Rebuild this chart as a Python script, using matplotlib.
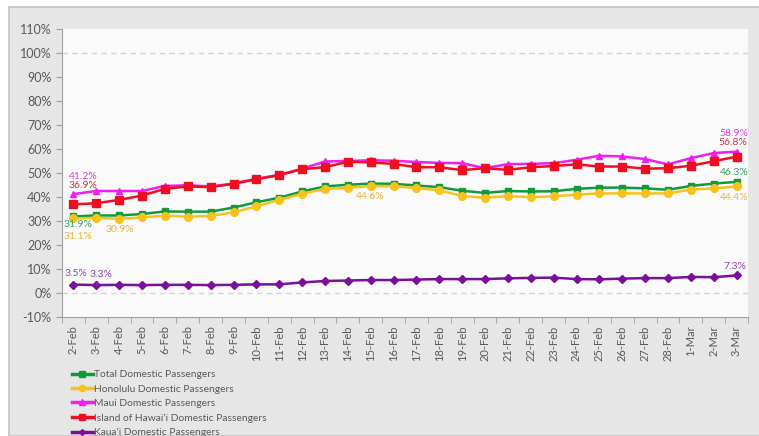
import numpy as np
import matplotlib.pyplot as plt
from matplotlib.ticker import FuncFormatter, MultipleLocator
from matplotlib.patches import Rectangle
from matplotlib.lines import Line2D

dates = ['2-Feb', '3-Feb', '4-Feb', '5-Feb', '6-Feb', '7-Feb', '8-Feb', '9-Feb', '10-Feb', '11-Feb',
         '12-Feb', '13-Feb', '14-Feb', '15-Feb', '16-Feb', '17-Feb', '18-Feb', '19-Feb', '20-Feb', '21-Feb',
         '22-Feb', '23-Feb', '24-Feb', '25-Feb', '26-Feb', '27-Feb', '28-Feb', '1-Mar', '2-Mar', '3-Mar']

total = [31.9, 32.3, 32.3, 32.9, 34.0, 33.9, 33.9, 35.6, 37.8, 39.7,
         42.3, 44.4, 45.1, 45.6, 45.5, 44.8, 44.1, 42.6, 41.7, 42.5,
         42.3, 42.4, 43.4, 43.9, 43.9, 43.6, 43.0, 44.6, 45.6, 46.3]
honolulu = [31.1, 31.3, 30.9, 31.5, 32.2, 31.8, 32.1, 33.6, 36.1, 38.8,
            41.3, 43.4, 43.8, 44.6, 44.5, 43.7, 42.8, 40.4, 39.7, 40.4,
            39.9, 40.3, 41.0, 41.5, 41.5, 41.5, 41.5, 43.1, 43.6, 44.4]
maui = [41.2, 42.5, 42.5, 42.5, 44.6, 44.9, 44.4, 45.6, 47.6, 49.2,
        51.8, 54.8, 55.0, 55.3, 55.1, 54.6, 54.2, 54.1, 52.0, 53.7,
        53.8, 54.1, 55.5, 57.2, 56.9, 55.8, 53.6, 56.2, 58.3, 58.9]
hawaii = [36.9, 37.4, 38.8, 40.6, 43.4, 44.4, 44.1, 45.5, 47.4, 49.1,
          51.6, 52.4, 54.7, 54.4, 53.8, 52.4, 52.4, 51.2, 52.0, 51.3,
          52.4, 52.9, 53.6, 52.7, 52.7, 51.8, 52.0, 53.0, 54.9, 56.8]
kauai = [3.5, 3.3, 3.4, 3.3, 3.4, 3.4, 3.3, 3.4, 3.6, 3.6,
         4.4, 5.0, 5.2, 5.4, 5.4, 5.6, 5.8, 5.8, 5.8, 6.1,
         6.3, 6.4, 5.8, 5.7, 6.0, 6.2, 6.2, 6.7, 6.6, 7.3]

names = ['Total Domestic Passengers', 'Honolulu Domestic Passengers', 'Maui Domestic Passengers',
         'Island of Hawai\u2018i Domestic Passengers', 'Kaua\u2018i Domestic Passengers']
series = [total, honolulu, maui, hawaii, kauai]
colors = ['#119a3b', '#f7c21b', '#f01ef0', '#ef0d20', '#7a0f98']
label_colors = ['#3f9e5e', '#e3b445', '#e040dc', '#c8344a', '#8a48a8']
markers = ['s', 'o', '^', 's', 'D']
msizes = [5, 5.5, 5, 5.8, 4]

plt.rcParams['font.family'] = ['Lato', 'DejaVu Sans']

fig = plt.figure(figsize=(7.59, 4.36), dpi=100)
fig.patch.set_facecolor('white')
# grey panel behind everything
fig.patches.append(Rectangle((9 / 759, 0), 1, 1 - 7 / 436, transform=fig.transFigure,
                             facecolor='#e6e6e6', edgecolor='#c4c4c4', linewidth=1.2, zorder=-5))

ax = fig.add_axes([62 / 759, 1 - 317 / 436, (748 - 62) / 759, (317 - 29) / 436])
ax.set_zorder(2)
ax.set_facecolor('#fafafa')

x = np.arange(len(dates))
for s, c, m, ms, n in zip(series, colors, markers, msizes, names):
    ax.plot(x, s, color=c, marker=m, markersize=ms, linewidth=1.8, label=n, zorder=3)

ax.set_xlim(-0.5, len(dates) - 0.5)
ax.set_ylim(-10, 110)
ax.yaxis.set_major_locator(MultipleLocator(10))
ax.yaxis.set_major_formatter(FuncFormatter(lambda v, p: f'{v:.0f}%'))
for yv in (0, 100):
    ax.axhline(yv, color='#d4d4d4', linestyle=(0, (4, 3)), linewidth=1, zorder=1)

ax.set_xticks(x)
ax.set_xticklabels(dates, rotation=90, fontsize=8, color='#595959')
ax.set_xticks(np.arange(-0.5, len(dates)), minor=True)
ax.tick_params(axis='x', which='major', length=0, pad=6)
ax.tick_params(axis='x', which='minor', length=4, color='#a0a0a0')
ax.tick_params(axis='y', labelsize=9, labelcolor='#595959', length=4, color='#a0a0a0')

for side in ('top', 'right'):
    ax.spines[side].set_visible(False)
ax.spines['left'].set_color('#a0a0a0')
ax.spines['bottom'].set_color('#a0a0a0')

# value labels, offsets in pixels from the point
def lab(i, k, dx, dy, ha='left', **kw):
    ax.annotate(f'{series[k][i]:.1f}%', (x[i], series[k][i]), xytext=(dx, dy),
                textcoords='offset pixels', ha=ha, va='center', fontsize=7.5,
                color=label_colors[k], **kw)

# start values
lab(0, 2, -5, 18)
lab(0, 3, -5, 19)
lab(0, 0, -10, -8)
lab(0, 1, -10, -18)
lab(2, 1, 1, -11, ha='center')
lab(0, 4, -9, 11)
lab(1, 4, 5, 11, ha='center',
    arrowprops=dict(arrowstyle='-', color='#606060', lw=0.6, shrinkA=4, shrinkB=3))
# middle
lab(13, 1, 0, -11, ha='center')
# end values
lab(29, 2, 12, 18, ha='right')
lab(29, 3, 11, 14, ha='right')
lab(29, 0, 12, 9, ha='right')
lab(29, 1, 12, -11, ha='right')
lab(29, 4, 10, 9, ha='right')

leg_handles = [Line2D([0], [0], color=c, marker=m, markersize=ms - 1, linewidth=2.5)
               for c, m, ms in zip(colors, markers, msizes)]
fig.legend(leg_handles, names, loc='upper left', bbox_to_anchor=(68 / 759, 1 - 366 / 436),
           frameon=False, fontsize=7.4, handlelength=2.0, handletextpad=0.15,
           labelspacing=0.5, labelcolor='#595959', borderaxespad=0)

fig.savefig('out.png', dpi=100, facecolor=fig.get_facecolor())
